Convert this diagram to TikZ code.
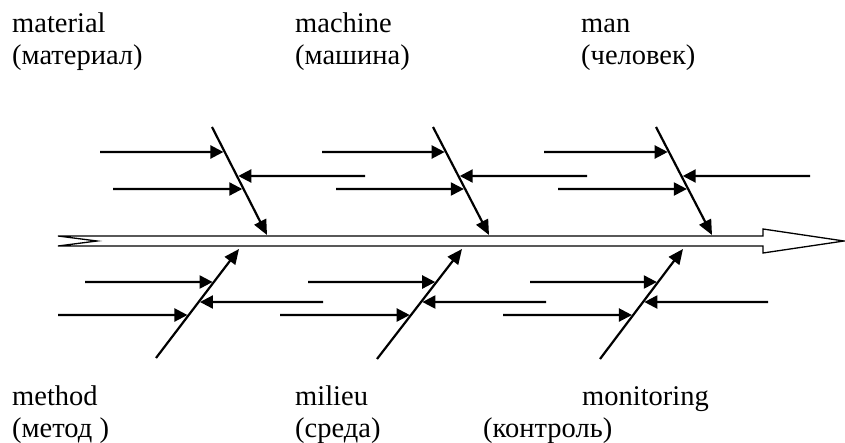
\documentclass[tikz,border=0pt]{standalone}
\usepackage{fontspec}
\setmainfont{Liberation Serif}
\usetikzlibrary{arrows.meta,calc}
\tikzset{
  bone/.style={line width=2.2pt, -{Triangle[length=15pt,width=13pt]}},
  cause/.style={line width=2.2pt, -{Triangle[length=13pt,width=13pt]}, shorten >=1.3pt},
  spine/.style={line width=1.3pt, fill=white, line join=miter},
  lab/.style={anchor=base west, inner sep=0pt, font=\fontsize{28.5}{32}\selectfont, align=left}
}
\begin{document}
\begin{tikzpicture}[x=1pt,y=-1pt]
\useasboundingbox (0,0) rectangle (845,443);
% spine (double-line arrow)
\coordinate (tl) at (58,236);
\coordinate (bl) at (58,246);
\coordinate (notch) at (97,241);
\coordinate (ht) at (763,236);
\coordinate (hb) at (763,246);
\coordinate (htt) at (763,229);
\coordinate (hbb) at (763,253);
\coordinate (tip) at (844,241);
\draw[spine] (tl) -- (ht) -- (htt) -- (tip) -- (hbb) -- (hb) -- (bl) -- (notch) -- cycle;
% bones: start s, end e; causes a, b (from left), c (from right)
\coordinate (s1) at (212,127); \coordinate (e1) at (267,235);
\coordinate (a1) at (100,152); \coordinate (b1) at (113,189); \coordinate (c1) at (365,176);
\coordinate (s2) at (433,127); \coordinate (e2) at (489,235);
\coordinate (a2) at (322,152); \coordinate (b2) at (336,189); \coordinate (c2) at (587,176);
\coordinate (s3) at (656,127); \coordinate (e3) at (712,235);
\coordinate (a3) at (544,152); \coordinate (b3) at (558,189); \coordinate (c3) at (810,176);
\coordinate (s4) at (156,358); \coordinate (e4) at (239,249);
\coordinate (a4) at (85,282); \coordinate (b4) at (58,315); \coordinate (c4) at (323,302);
\coordinate (s5) at (377,359); \coordinate (e5) at (462,249);
\coordinate (a5) at (308,282); \coordinate (b5) at (280,315); \coordinate (c5) at (546,302);
\coordinate (s6) at (600,359); \coordinate (e6) at (683,249);
\coordinate (a6) at (530,282); \coordinate (b6) at (503,315); \coordinate (c6) at (768,302);
\foreach \i in {1,...,6} {
  \draw[bone] (s\i) -- (e\i);
  \draw[cause] (a\i) -- (intersection cs: first line={(s\i)--(e\i)}, second line={(a\i)--(a\i -| e\i)});
  \draw[cause] (b\i) -- (intersection cs: first line={(s\i)--(e\i)}, second line={(b\i)--(b\i -| e\i)});
  \draw[cause] (c\i) -- (intersection cs: first line={(s\i)--(e\i)}, second line={(c\i)--(c\i -| s\i)});
}
% labels (anchor = baseline of the last line)
\node[lab] (l1) at (12,65) {material\\(материал)};
\node[lab] (l2) at (295,65) {machine\\(машина)};
\node[lab] (l3) at (581,65) {man\\(человек)};
\node[lab] (l4) at (12,437) {method\\(метод )};
\node[lab] (l5) at (295,437) {milieu\\(среда)};
\node[lab] (l6) at (582,405) {monitoring};
\node[lab] (l7) at (483,437) {(контроль)};
\end{tikzpicture}
\end{document}
